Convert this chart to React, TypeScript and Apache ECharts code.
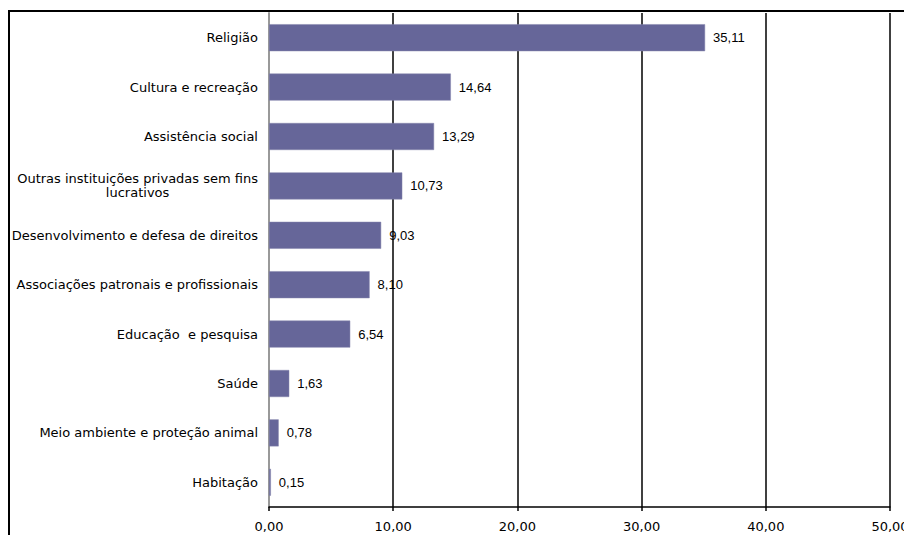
import React, { useEffect, useRef } from "react";
import * as echarts from "echarts";

const categories = [
  "Religião",
  "Cultura e recreação",
  "Assistência social",
  "Outras instituições privadas sem fins\nlucrativos",
  "Desenvolvimento e defesa de direitos",
  "Associações patronais e profissionais",
  "Educação  e pesquisa",
  "Saúde",
  "Meio ambiente e proteção animal",
  "Habitação",
];
const values = [35.11, 14.64, 13.29, 10.73, 9.03, 8.1, 6.54, 1.63, 0.78, 0.15];
const axisMin = 0;
const axisMax = 50;
const axisStep = 10;

const fmt = (v: number) => v.toFixed(2).replace(".", ",");
const catFont = "DejaVu Sans, Liberation Sans, sans-serif";
const numFont = "Liberation Sans, Arial, sans-serif";

export default function App() {
  const ref = useRef<HTMLDivElement>(null);
  useEffect(() => {
    if (!ref.current) return;
    const chart = echarts.init(ref.current, undefined, { renderer: "svg" });
    chart.setOption({
      animation: false,
      backgroundColor: "#fff",
      textStyle: { fontFamily: numFont },
      graphic: [
        {
          type: "line",
          shape: { x1: 8, y1: 11, x2: 904, y2: 11 },
          style: { stroke: "#000", lineWidth: 2 },
          z: 10,
        },
        {
          type: "line",
          shape: { x1: 9, y1: 10, x2: 9, y2: 535 },
          style: { stroke: "#000", lineWidth: 2 },
          z: 10,
        },
      ],
      grid: {
        left: 269,
        right: 14,
        top: 13,
        bottom: 28,
        containLabel: false,
        outerBoundsMode: "none",
      },
      xAxis: {
        type: "value",
        min: axisMin,
        max: axisMax,
        interval: axisStep,
        axisLine: { show: true, lineStyle: { color: "#000", width: 1.5 } },
        axisTick: { show: true, length: 4, inside: false, lineStyle: { color: "#000", width: 1.5 } },
        axisLabel: {
          formatter: (v: number) => fmt(v),
          color: "#000",
          fontSize: 13,
          margin: 13,
          fontFamily: catFont,
          hideOverlap: false,
        },
        splitLine: {
          show: true,
          lineStyle: { color: "#000", width: 1.5, type: "solid" },
        },
      },
      yAxis: {
        type: "category",
        inverse: true,
        data: categories,
        axisLine: { show: true, lineStyle: { color: "#999", width: 2 } },
        axisTick: { show: false },
        axisLabel: {
          color: "#000",
          fontSize: 13,
          margin: 11,
          fontFamily: catFont,
          formatter: (v: string) => {
            if (v.indexOf("\n") >= 0) {
              return v
                .split("\n")
                .map((l) => "{c|" + l + "}")
                .join("\n");
            }
            return v;
          },
          rich: {
            c: {
              align: "center",
              fontSize: 13,
              color: "#000",
              lineHeight: 14,
              fontFamily: catFont,
            },
          },
        },
      },
      series: [
        {
          type: "bar",
          data: values,
          barWidth: 27,
          itemStyle: { color: "#666699", borderColor: "#8585ad", borderWidth: 0.5 },
          label: {
            show: true,
            position: "right",
            distance: 8,
            color: "#000",
            fontSize: 13,
            fontFamily: numFont,
            formatter: (p: any) => fmt(p.value),
          },
        },
      ],
    });
    return () => chart.dispose();
  }, []);
  return (
    <div
      style={{
        position: "absolute",
        left: 0,
        top: 0,
        width: 904,
        height: 535,
        overflow: "hidden",
        background: "#fff",
      }}
    >
      <div ref={ref} style={{ width: 904, height: 535 }} />
    </div>
  );
}
